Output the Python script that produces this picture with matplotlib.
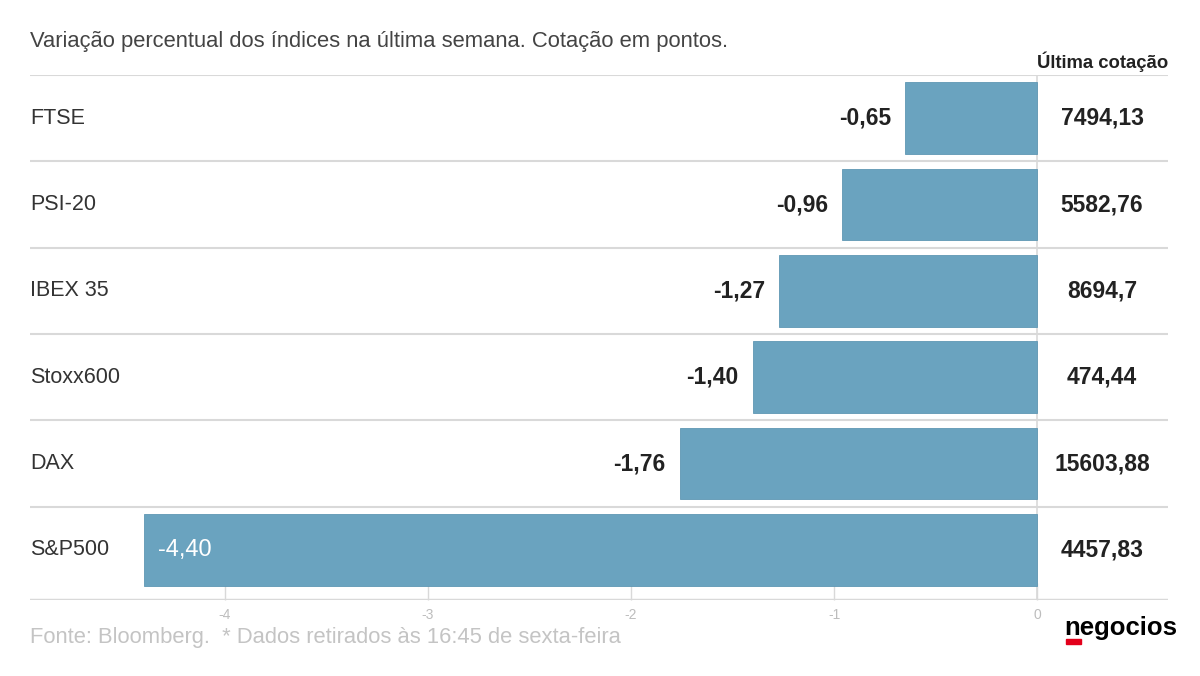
import matplotlib
import matplotlib.pyplot as plt
from matplotlib.patches import Rectangle

plt.rcParams['font.family'] = ['Liberation Sans Narrow', 'Liberation Sans', 'DejaVu Sans']

indices = ['FTSE', 'PSI-20', 'IBEX 35', 'Stoxx600', 'DAX', 'S&P500']
variacao = [-0.65, -0.96, -1.27, -1.40, -1.76, -4.40]
cotacao = ['7494,13', '5582,76', '8694,7', '474,44', '15603,88', '4457,83']
ticks = [-4, -3, -2, -1, 0]

bar_color = '#6aa3bf'
grid_color = '#d9d9d9'

fig = plt.figure(figsize=(12, 6.76), dpi=100)
W, H = 1200, 676

# axes spans pixel x 30..1168, y 75..600
ax = fig.add_axes([30 / W, 1 - 600 / H, (1168 - 30) / W, (600 - 75) / H])
ax.set_xlim(-4.96, 0.645)
ax.set_ylim(5.58, -0.5)

y = list(range(len(indices)))
ax.barh(y, variacao, height=0.83, color=bar_color, edgecolor='#5f97b3', linewidth=0.6, zorder=2)

# row separators
for i in range(len(indices)):
    ax.axhline(i - 0.5, color=grid_color, linewidth=1.5, zorder=1)
ax.axhline(5.58, color=grid_color, linewidth=2.5, zorder=1)
ax.plot([0, 0], [-0.5, 5.58], color=grid_color, linewidth=1.2, zorder=1)

for sp in ax.spines.values():
    sp.set_visible(False)
ax.set_yticks([])
ax.set_xticks(ticks)
ax.set_xticklabels([str(t) for t in ticks], color='#bdbdbd', fontsize=10)
ax.tick_params(axis='x', direction='in', length=12, width=1, color=grid_color, pad=6)

for i, (name, v, c) in enumerate(zip(indices, variacao, cotacao)):
    ax.text(-4.96, i, name, ha='left', va='center', fontsize=15.5, color='#333333')
    lbl = ('%.2f' % v).replace('.', ',')
    if v < -3:
        ax.text(v + 0.07, i, lbl, ha='left', va='center', fontsize=17, color='white')
    else:
        ax.text(v - 0.07, i, lbl, ha='right', va='center', fontsize=16.5,
                color='#222222', fontweight='bold')
    ax.text(0.32, i, c, ha='center', va='center', fontsize=16.5,
            color='#222222', fontweight='bold')

fig.text(30 / W, 1 - 42 / H, 'Variação percentual dos índices na última semana. Cotação em pontos.',
         ha='left', va='center', fontsize=15.8, color='#444444')
fig.text(1168 / W, 1 - 62 / H, 'Última cotação', ha='right', va='center',
         fontsize=13.3, color='#222222', fontweight='bold')
fig.text(30 / W, 1 - 638 / H, 'Fonte: Bloomberg.  * Dados retirados às 16:45 de sexta-feira',
         ha='left', va='center', fontsize=15.8, color='#c4c4c4')

# logo
fig.text(1064 / W, 1 - 628 / H, 'negocios', ha='left', va='center',
         fontsize=18.5, fontweight='heavy', color='black')
fig.patches.append(Rectangle((1066 / W, 1 - 644 / H), 15 / W, 5 / H,
                             transform=fig.transFigure, color='#e3001b'))

fig.savefig('out.png', dpi=100, facecolor='white')
